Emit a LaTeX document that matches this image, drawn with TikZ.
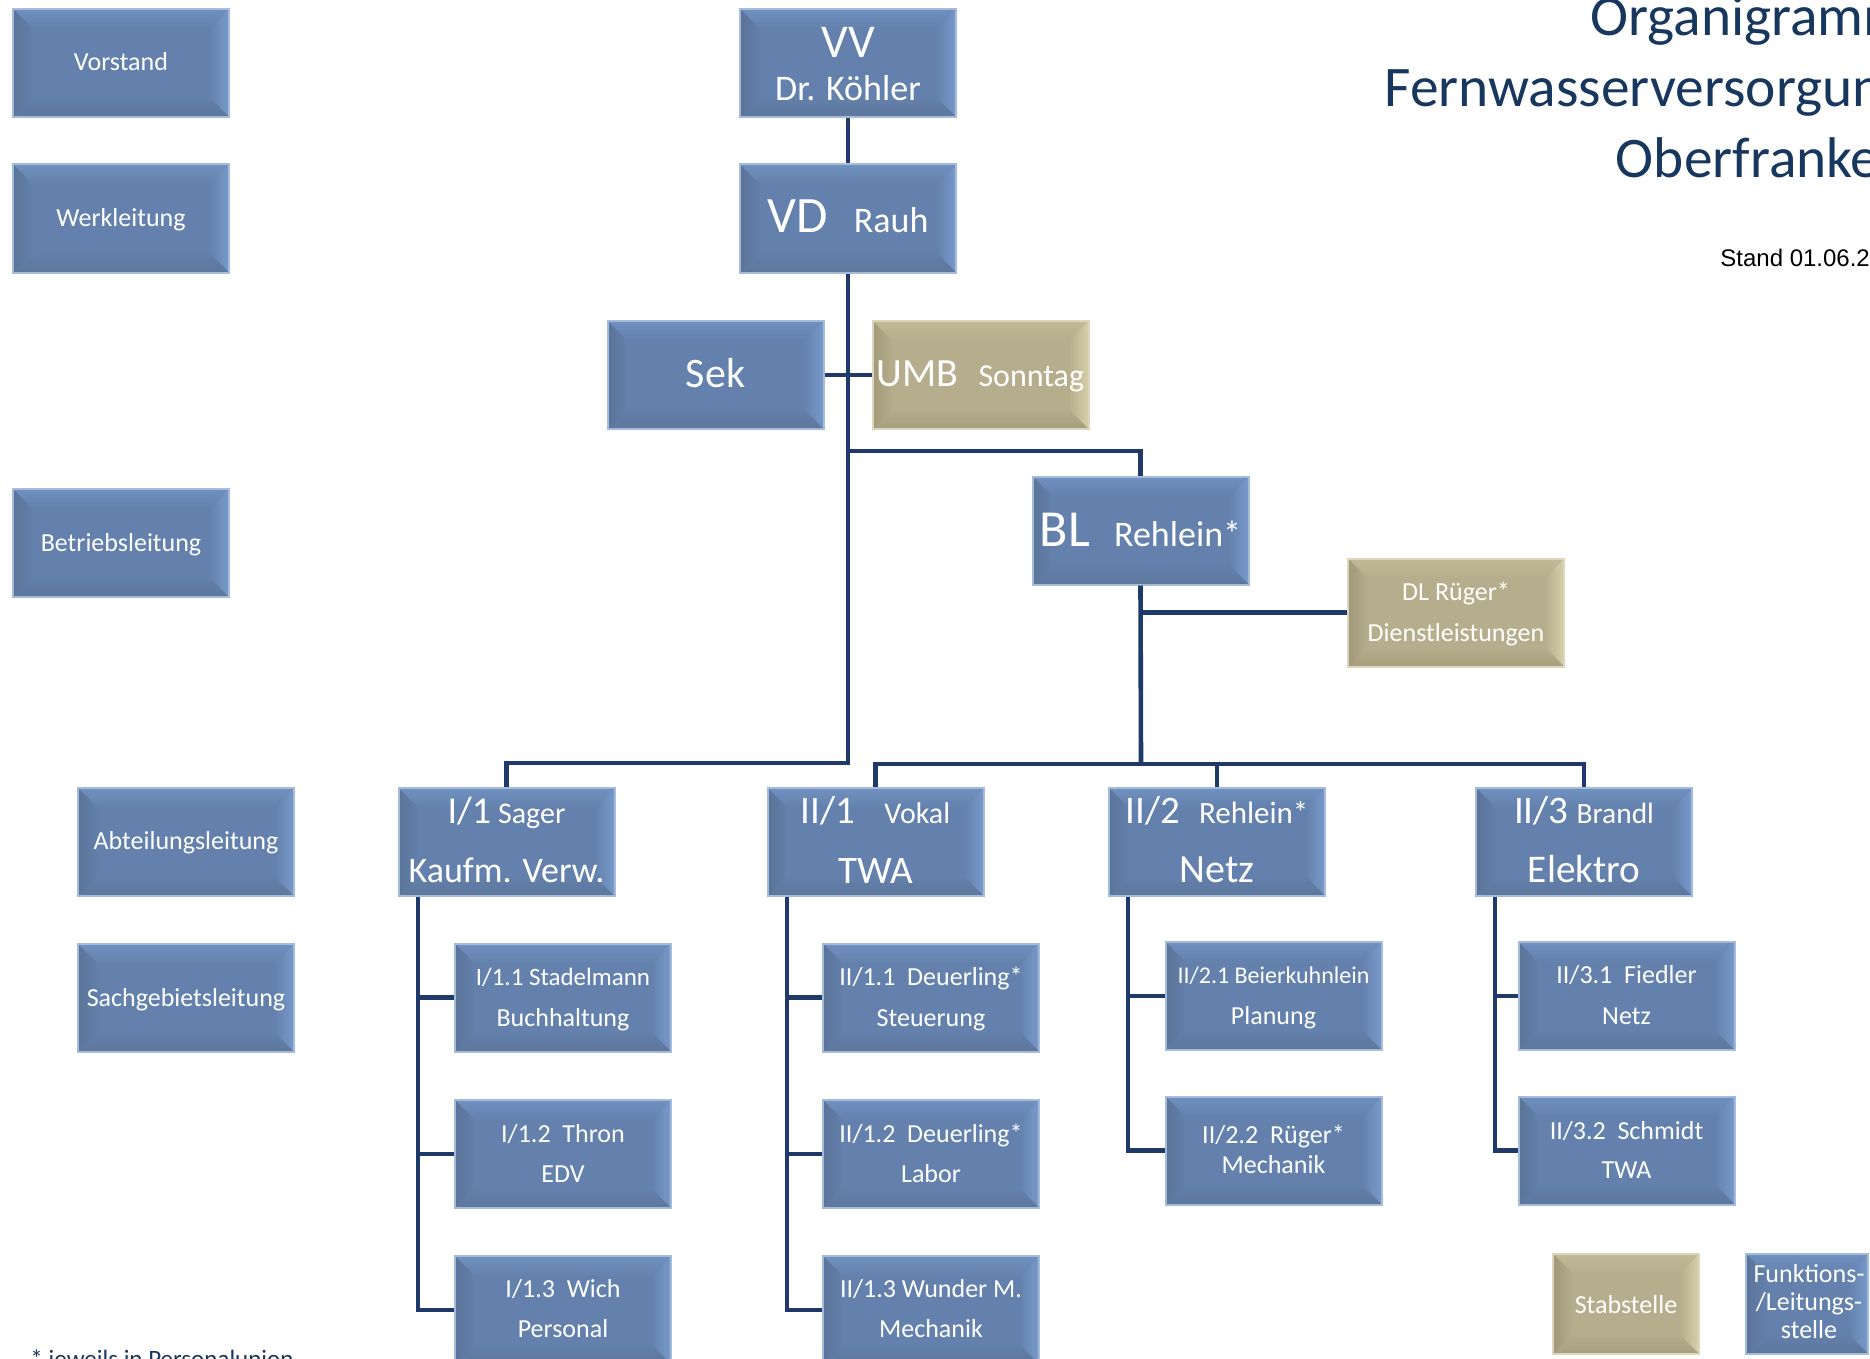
\documentclass[tikz,border=0pt]{standalone}
\usepackage{fontspec}
\setmainfont{Carlito}
\newfontfamily\arialf{Liberation Sans}
\usetikzlibrary{calc}
\definecolor{bc}{RGB}{99,129,172}
\definecolor{bt}{RGB}{112,144,192}
\definecolor{br}{RGB}{120,153,203}
\definecolor{bb}{RGB}{93,118,155}
\definecolor{bl}{RGB}{90,115,152}
\definecolor{be}{RGB}{165,187,220}
\definecolor{gc}{RGB}{181,173,139}
\definecolor{gt}{RGB}{194,186,150}
\definecolor{gr}{RGB}{215,207,168}
\definecolor{gb}{RGB}{166,158,125}
\definecolor{gl}{RGB}{160,152,120}
\definecolor{ge}{RGB}{220,214,190}
\definecolor{linec}{RGB}{31,58,105}
\definecolor{titlec}{RGB}{23,55,94}
\newcommand\fsz[1]{\fontsize{#1pt}{#1pt}\selectfont}
\newcommand\bevelfill[5]{%
  \path (path picture bounding box.south west) coordinate (pSW)
        (path picture bounding box.north east) coordinate (pNE);
  \coordinate (pNW) at (pSW|-pNE);
  \coordinate (pSE) at (pNE|-pSW);
  \coordinate (iNW) at ($(pNW)+(10pt,-10pt)$);
  \coordinate (iNE) at ($(pNE)+(-10pt,-10pt)$);
  \coordinate (iSE) at ($(pSE)+(-10pt,10pt)$);
  \coordinate (iSW) at ($(pSW)+(10pt,10pt)$);
  \fill[#5] (pSW) rectangle (pNE);
  \shade[top color=#1, bottom color=#5] (pNW) -- (pNE) -- (iNE) -- (iNW) -- cycle;
  \shade[left color=#5, right color=#2] (pNE) -- (pSE) -- (iSE) -- (iNE) -- cycle;
  \shade[top color=#5, bottom color=#3] (pSE) -- (pSW) -- (iSW) -- (iSE) -- cycle;
  \shade[left color=#4, right color=#5] (pSW) -- (pNW) -- (iNW) -- (iSW) -- cycle;
}
\tikzset{
  bluebox/.style={rectangle, draw=be, line width=1pt, minimum width=108pt, minimum height=54pt, inner sep=0pt, path picture={\bevelfill{bt}{br}{bb}{bl}{bc}}},
  goldbox/.style={rectangle, draw=ge, line width=1pt, minimum width=108pt, minimum height=54pt, inner sep=0pt, path picture={\bevelfill{gt}{gr}{gb}{gl}{gc}}},
  conn/.style={draw=linec, line width=2.3pt},
  lbl/.style={text=white, inner sep=0pt, anchor=base},
}
\begin{document}
\begin{tikzpicture}[x=0.5pt,y=-0.5pt]
\useasboundingbox (0,0) rectangle (1870,1359);
\clip (0,0) rectangle (1870,1359);
\fill[white] (0,0) rectangle (1870,1359);

% legend column
\node[bluebox] (Vor) at (121,63) {};
\node[bluebox] (Werk) at (121,218.5) {};
\node[bluebox] (Betr) at (121,543) {};
\node[bluebox] (Abt) at (186,842) {};
\node[bluebox] (Sach) at (186,998) {};
% top
\node[bluebox] (VV) at (848,63) {};
\node[bluebox] (VD) at (848,218.5) {};
\node[bluebox] (Sek) at (715.5,375) {};
\node[goldbox] (UMB) at (980.5,375) {};
\node[bluebox] (BL) at (1140.5,530.5) {};
\node[goldbox] (DL) at (1456,612.5) {};
% level 2
\node[bluebox] (I1) at (506.5,842) {};
\node[bluebox] (II1) at (875.5,842) {};
\node[bluebox] (II2) at (1217,842) {};
\node[bluebox] (II3) at (1584,842) {};
% level 3
\node[bluebox] (I11) at (563,997.5) {};
\node[bluebox] (I12) at (563,1154) {};
\node[bluebox] (I13) at (563,1310) {};
\node[bluebox] (II11) at (931,997.5) {};
\node[bluebox] (II12) at (931,1154) {};
\node[bluebox] (II13) at (931,1310) {};
\node[bluebox] (II21) at (1273.5,996) {};
\node[bluebox] (II22) at (1273.5,1150.5) {};
\node[bluebox] (II31) at (1626.5,996) {};
\node[bluebox] (II32) at (1626.5,1150.5) {};
% legend bottom right
\node[goldbox, minimum width=73pt, minimum height=50pt] (Stab) at (1626,1304) {};
\node[bluebox, minimum width=61pt, minimum height=50pt] (Funk) at (1807,1304) {};

% connectors
\coordinate (j1) at (848,763);
\coordinate (j2) at (848,451);
\coordinate (j3) at (1141,764);
\draw[conn] (VV.south) -- (VD.north);
\draw[conn] (VD.south) -- (j1) -| (I1.north);
\draw[conn] (Sek.east) -- (UMB.west);
\draw[conn] (j2) -| (BL.north);
\draw[conn] (BL.south) -- (j3);
\draw[conn] (BL.south |- DL.west) -- (DL.west);
\draw[conn] (II1.north) |- (j3) -| (II3.north);
\draw[conn] (II2.north) -- (II2.north |- j3);
\coordinate (v1) at (418,897);
\coordinate (v2) at (787,897);
\coordinate (v3) at (1128,897);
\coordinate (v4) at (1495,897);
\draw[conn] (v1) |- (I13.west);
\draw[conn] (v1 |- I11.west) -- (I11.west);
\draw[conn] (v1 |- I12.west) -- (I12.west);
\draw[conn] (v2) |- (II13.west);
\draw[conn] (v2 |- II11.west) -- (II11.west);
\draw[conn] (v2 |- II12.west) -- (II12.west);
\draw[conn] (v3) |- (II22.west);
\draw[conn] (v3 |- II21.west) -- (II21.west);
\draw[conn] (v4) |- (II32.west);
\draw[conn] (v4 |- II31.west) -- (II31.west);

% texts
\node[lbl,font=\fsz{13}] (tVor) at ($(Vor.center)+(0,8)$) {Vorstand};
\node[lbl,font=\fsz{13}] (tWerk) at ($(Werk.center)+(0,8)$) {Werkleitung};
\node[lbl,font=\fsz{13}] (tBetr) at ($(Betr.center)+(0,8)$) {Betriebsleitung};
\node[lbl,font=\fsz{13}] (tAbt) at ($(Abt.center)+(0,7)$) {Abteilungsleitung};
\node[lbl,font=\fsz{13}] (tSach) at ($(Sach.center)+(0,8)$) {Sachgebietsleitung};

\node[lbl,font=\fsz{23.5}] (tVVa) at ($(VV.center)+(0,-5)$) {VV};
\node[lbl,font=\fsz{18}] (tVVb) at ($(VV.center)+(0,38)$) {Dr. Köhler};
\node[lbl] (tVD) at ($(VD.center)+(0,14.5)$) {{\fsz{25.5}VD}\hspace{13pt}{\fsz{18}Rauh}};
\node[lbl,font=\fsz{21}] (tSek) at ($(Sek.center)+(0,12)$) {Sek};
\node[lbl] (tUMB) at ($(UMB.center)+(0,11)$) {{\fsz{20}UMB}\hspace{10pt}{\fsz{16}Sonntag}};
\node[lbl] (tBL) at ($(BL.center)+(0,15.5)$) {{\fsz{26}BL}\hspace{12pt}{\fsz{18}Rehlein*}};
\node[lbl,font=\fsz{13}] (tDLa) at ($(DL.center)+(0,-12.5)$) {DL Rüger*};
\node[lbl,font=\fsz{13}] (tDLb) at ($(DL.center)+(0,28.5)$) {Dienstleistungen};

\node[lbl] (tI1a) at ($(I1.center)+(0,-19)$) {{\fsz{19}I/1}\hspace{3.5pt}{\fsz{15}Sager}};
\node[lbl,font=\fsz{18}] (tI1b) at ($(I1.center)+(0,40)$) {Kaufm. Verw.};
\node[lbl] (tII1a) at ($(II1.center)+(0,-19)$) {{\fsz{19.5}II/1}\hspace{14.5pt}{\fsz{15}Vokal}};
\node[lbl,font=\fsz{19.5}] (tII1b) at ($(II1.center)+(0,41)$) {TWA};
\node[lbl] (tII2a) at ($(II2.center)+(0,-19)$) {{\fsz{19.5}II/2}\hspace{9.5pt}{\fsz{15.5}Rehlein*}};
\node[lbl,font=\fsz{20}] (tII2b) at ($(II2.center)+(0,40)$) {Netz};
\node[lbl] (tII3a) at ($(II3.center)+(0,-19)$) {{\fsz{19.5}II/3}\hspace{4pt}{\fsz{14.7}Brandl}};
\node[lbl,font=\fsz{19.6}] (tII3b) at ($(II3.center)+(0,40)$) {Elektro};

\node[lbl,font=\fsz{12.5}] (tI11a) at ($(I11.center)+(0,-12.5)$) {I/1.1 Stadelmann};
\node[lbl,font=\fsz{13}] (tI11b) at ($(I11.center)+(0,28.5)$) {Buchhaltung};
\node[lbl,font=\fsz{13}] (tI12a) at ($(I12.center)+(0,-12)$) {I/1.2\ \ Thron};
\node[lbl,font=\fsz{13}] (tI12b) at ($(I12.center)+(0,28)$) {EDV};
\node[lbl,font=\fsz{13}] (tI13a) at ($(I13.center)+(0,-13)$) {I/1.3\ \ Wich};
\node[lbl,font=\fsz{13}] (tI13b) at ($(I13.center)+(0,27)$) {Personal};
\node[lbl,font=\fsz{13}] (tII11a) at ($(II11.center)+(0,-12.5)$) {II/1.1\ \ Deuerling*};
\node[lbl,font=\fsz{13}] (tII11b) at ($(II11.center)+(0,28.5)$) {Steuerung};
\node[lbl,font=\fsz{13}] (tII12a) at ($(II12.center)+(0,-12)$) {II/1.2\ \ Deuerling*};
\node[lbl,font=\fsz{13}] (tII12b) at ($(II12.center)+(0,28)$) {Labor};
\node[lbl,font=\fsz{13}] (tII13a) at ($(II13.center)+(0,-13)$) {II/1.3 Wunder M.};
\node[lbl,font=\fsz{13}] (tII13b) at ($(II13.center)+(0,27)$) {Mechanik};
\node[lbl,font=\fsz{12}] (tII21a) at ($(II21.center)+(0,-13)$) {II/2.1 Beierkuhnlein};
\node[lbl,font=\fsz{13}] (tII21b) at ($(II21.center)+(0,28)$) {Planung};
\node[lbl,font=\fsz{13}] (tII22a) at ($(II22.center)+(0,-7.5)$) {II/2.2\ \ Rüger*};
\node[lbl,font=\fsz{13}] (tII22b) at ($(II22.center)+(0,22.5)$) {Mechanik};
\node[lbl,font=\fsz{13}] (tII31a) at ($(II31.center)+(0,-13)$) {II/3.1\ \ Fiedler};
\node[lbl,font=\fsz{13}] (tII31b) at ($(II31.center)+(0,28)$) {Netz};
\node[lbl,font=\fsz{13}] (tII32a) at ($(II32.center)+(0,-11.5)$) {II/3.2\ \ Schmidt};
\node[lbl,font=\fsz{13}] (tII32b) at ($(II32.center)+(0,27.5)$) {TWA};

\node[lbl,font=\fsz{13}] (tStab) at ($(Stab.center)+(0,9)$) {Stabstelle};
\node[lbl,font=\fsz{13}] (tFunka) at ($(Funk.center)+(2,-22)$) {Funktions-};
\node[lbl,font=\fsz{13}] (tFunkb) at ($(Funk.center)+(2,6)$) {/Leitungs-};
\node[lbl,font=\fsz{13}] (tFunkc) at ($(Funk.center)+(2,34)$) {stelle};

% title and notes
\node[anchor=base east, inner sep=0pt, text=titlec, font=\fsz{28.7}] (ti1) at (1910,36) {Organigramm};
\node[anchor=base east, inner sep=0pt, text=titlec, font=\fsz{28.7}] (ti2) at (1910,107) {Fernwasserversorgung};
\node[anchor=base east, inner sep=0pt, text=titlec, font=\fsz{28.7}] (ti3) at (1910,177) {Oberfranken};
\node[anchor=base west, inner sep=0pt, font=\arialf\fsz{12}] (stand) at (1720,266) {Stand 01.06.2};
\node[anchor=base west, inner sep=0pt, text=titlec, font=\fsz{12.5}] (fn) at (30,1367) {* jeweils in Personalunion};
\end{tikzpicture}
\end{document}
